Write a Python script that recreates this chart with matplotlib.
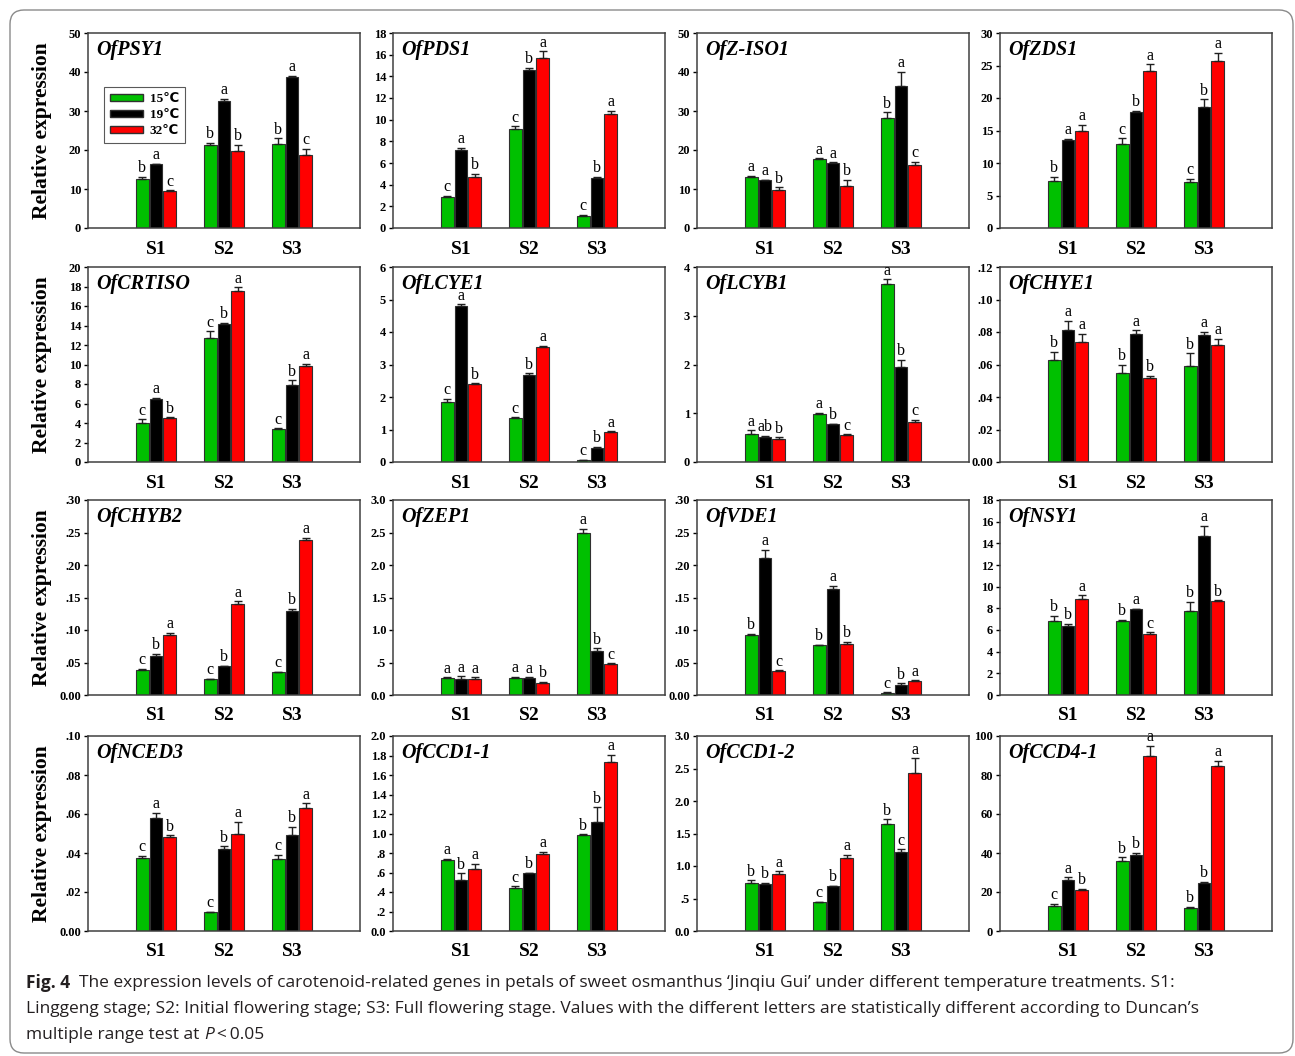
import numpy as np
import matplotlib.pyplot as plt
from matplotlib.patches import Patch, FancyBboxPatch
from matplotlib.transforms import IdentityTransform

# categories / treatments
stages = ['S1', 'S2', 'S3']
temps = ['15℃', '19℃', '32℃']

# values: one row per stage, columns = 15, 19, 32 C
psy1_val = [[12.5, 16.3, 9.5], [21.2, 32.5, 19.8], [21.6, 38.8, 18.7]]
psy1_err = [[0.7, 0.2, 0.2], [0.7, 0.7, 1.5], [1.4, 0.3, 1.6]]
psy1_sig = [['b', 'a', 'c'], ['b', 'a', 'b'], ['b', 'a', 'c']]

pds1_val = [[2.9, 7.2, 4.7], [9.1, 14.6, 15.7], [1.1, 4.6, 10.5]]
pds1_err = [[0.1, 0.2, 0.3], [0.3, 0.2, 0.6], [0.1, 0.15, 0.3]]
pds1_sig = [['c', 'a', 'b'], ['c', 'b', 'a'], ['c', 'b', 'a']]

ziso1_val = [[13.2, 12.3, 9.7], [17.8, 16.7, 10.7], [28.2, 36.5, 16.2]]
ziso1_err = [[0.2, 0.1, 0.7], [0.1, 0.1, 1.7], [1.5, 3.5, 0.8]]
ziso1_sig = [['a', 'a', 'b'], ['a', 'a', 'b'], ['b', 'a', 'c']]

zds1_val = [[7.3, 13.6, 15.0], [13.0, 17.9, 24.1], [7.1, 18.6, 25.7]]
zds1_err = [[0.6, 0.1, 0.9], [0.8, 0.1, 1.1], [0.5, 1.2, 1.3]]
zds1_sig = [['b', 'a', 'a'], ['c', 'b', 'a'], ['c', 'b', 'a']]

crtiso_val = [[4.0, 6.5, 4.5], [12.7, 14.2, 17.5], [3.4, 7.9, 9.8]]
crtiso_err = [[0.4, 0.1, 0.1], [0.7, 0.05, 0.4], [0.05, 0.5, 0.3]]
crtiso_sig = [['c', 'a', 'b'], ['c', 'b', 'a'], ['c', 'b', 'a']]

lcye1_val = [[1.85, 4.8, 2.4], [1.35, 2.68, 3.55], [0.05, 0.43, 0.93]]
lcye1_err = [[0.1, 0.05, 0.02], [0.02, 0.05, 0.02], [0.01, 0.03, 0.02]]
lcye1_sig = [['c', 'a', 'b'], ['c', 'b', 'a'], ['c', 'b', 'a']]

lcyb1_val = [[0.58, 0.51, 0.47], [0.98, 0.77, 0.56], [3.65, 1.95, 0.83]]
lcyb1_err = [[0.07, 0.03, 0.04], [0.03, 0.01, 0.01], [0.1, 0.15, 0.04]]
lcyb1_sig = [['a', 'ab', 'b'], ['a', 'b', 'c'], ['a', 'b', 'c']]

chye1_val = [[0.063, 0.081, 0.074], [0.055, 0.079, 0.052], [0.059, 0.078, 0.072]]
chye1_err = [[0.005, 0.006, 0.005], [0.005, 0.002, 0.001], [0.008, 0.002, 0.004]]
chye1_sig = [['b', 'a', 'a'], ['b', 'a', 'b'], ['b', 'a', 'a']]

chyb2_val = [[0.038, 0.060, 0.092], [0.024, 0.044, 0.140], [0.035, 0.129, 0.238]]
chyb2_err = [[0.002, 0.003, 0.004], [0.0005, 0.001, 0.004], [0.001, 0.004, 0.004]]
chyb2_sig = [['c', 'b', 'a'], ['c', 'b', 'a'], ['c', 'b', 'a']]

zep1_val = [[0.26, 0.25, 0.25], [0.26, 0.26, 0.19], [2.49, 0.68, 0.48]]
zep1_err = [[0.01, 0.04, 0.02], [0.02, 0.01, 0.01], [0.07, 0.04, 0.01]]
zep1_sig = [['a', 'a', 'a'], ['a', 'a', 'b'], ['a', 'b', 'c']]

vde1_val = [[0.093, 0.211, 0.037], [0.077, 0.163, 0.078], [0.003, 0.016, 0.022]]
vde1_err = [[0.001, 0.012, 0.001], [0.0005, 0.005, 0.004], [0.001, 0.002, 0.0005]]
vde1_sig = [['b', 'a', 'c'], ['b', 'a', 'b'], ['c', 'b', 'a']]

nsy1_val = [[6.8, 6.4, 8.9], [6.8, 7.9, 5.6], [7.8, 14.7, 8.7]]
nsy1_err = [[0.5, 0.2, 0.3], [0.15, 0.05, 0.2], [0.8, 0.9, 0.05]]
nsy1_sig = [['b', 'b', 'a'], ['b', 'a', 'c'], ['b', 'a', 'b']]

nced3_val = [[0.0375, 0.058, 0.048], [0.0098, 0.042, 0.050], [0.037, 0.049, 0.063]]
nced3_err = [[0.001, 0.0025, 0.001], [0.0002, 0.0015, 0.006], [0.002, 0.0045, 0.0025]]
nced3_sig = [['c', 'a', 'b'], ['c', 'b', 'a'], ['c', 'b', 'a']]

ccd11_val = [[0.73, 0.52, 0.64], [0.44, 0.59, 0.79], [0.98, 1.12, 1.73]]
ccd11_err = [[0.01, 0.07, 0.05], [0.02, 0.005, 0.02], [0.01, 0.15, 0.08]]
ccd11_sig = [['a', 'b', 'a'], ['c', 'b', 'a'], ['b', 'b', 'a']]

ccd12_val = [[0.74, 0.73, 0.87], [0.44, 0.69, 1.13], [1.64, 1.22, 2.43]]
ccd12_err = [[0.04, 0.01, 0.05], [0.01, 0.01, 0.04], [0.08, 0.04, 0.23]]
ccd12_sig = [['b', 'b', 'a'], ['c', 'b', 'a'], ['b', 'c', 'a']]

ccd41_val = [[12.8, 26.0, 21.0], [36.0, 39.2, 90.0], [12.0, 24.8, 84.5]]
ccd41_err = [[1.2, 1.5, 0.5], [1.8, 1.0, 5.0], [0.5, 0.5, 2.8]]
ccd41_sig = [['c', 'a', 'b'], ['b', 'b', 'a'], ['b', 'b', 'a']]

# gene name, values, errors, letters, y max, tick step, decimals
panels = [
    ('OfPSY1', psy1_val, psy1_err, psy1_sig, 50, 10, 0),
    ('OfPDS1', pds1_val, pds1_err, pds1_sig, 18, 2, 0),
    ('OfZ-ISO1', ziso1_val, ziso1_err, ziso1_sig, 50, 10, 0),
    ('OfZDS1', zds1_val, zds1_err, zds1_sig, 30, 5, 0),
    ('OfCRTISO', crtiso_val, crtiso_err, crtiso_sig, 20, 2, 0),
    ('OfLCYE1', lcye1_val, lcye1_err, lcye1_sig, 6, 1, 0),
    ('OfLCYB1', lcyb1_val, lcyb1_err, lcyb1_sig, 4, 1, 0),
    ('OfCHYE1', chye1_val, chye1_err, chye1_sig, 0.12, 0.02, 2),
    ('OfCHYB2', chyb2_val, chyb2_err, chyb2_sig, 0.30, 0.05, 2),
    ('OfZEP1', zep1_val, zep1_err, zep1_sig, 3.0, 0.5, 1),
    ('OfVDE1', vde1_val, vde1_err, vde1_sig, 0.30, 0.05, 2),
    ('OfNSY1', nsy1_val, nsy1_err, nsy1_sig, 18, 2, 0),
    ('OfNCED3', nced3_val, nced3_err, nced3_sig, 0.10, 0.02, 2),
    ('OfCCD1-1', ccd11_val, ccd11_err, ccd11_sig, 2.0, 0.2, 1),
    ('OfCCD1-2', ccd12_val, ccd12_err, ccd12_sig, 3.0, 0.5, 1),
    ('OfCCD4-1', ccd41_val, ccd41_err, ccd41_sig, 100, 20, 0),
]

colors = ['#00c000', '#000000', '#ff0000']
serif = ['Liberation Serif', 'DejaVu Sans']
sans = 'Open Sans'

W, H = 1295, 1056
fig = plt.figure(figsize=(W / 100, H / 100), dpi=100)

# rounded frame around the whole figure
fig.patches.append(FancyBboxPatch((10, 3), W - 12, H - 13,
                                  boxstyle='round,pad=0,rounding_size=14',
                                  transform=IdentityTransform(), facecolor='none',
                                  edgecolor='#8a8a8a', linewidth=1.0))

col_left = [88, 393, 697, 1000]
row_top = [33, 267, 500, 736]
aw, ah = 272, 195


def tick_label(v, dec):
    s = f'{v:.{dec}f}'
    if 0 < v < 1 and dec > 0:
        s = s[1:]
    return s


x = np.arange(1, 4)
offsets = [-0.2, 0.0, 0.2]
bw = 0.18

for k, (name, val, err, sig, ymax, step, dec) in enumerate(panels):
    r, c = divmod(k, 4)
    ax = fig.add_axes([col_left[c] / W, 1 - (row_top[r] + ah) / H, aw / W, ah / H])
    val = np.array(val)
    err = np.array(err)
    for j in range(3):
        xs = x + offsets[j]
        ax.bar(xs, val[:, j], width=bw, color=colors[j], edgecolor='#303030',
               linewidth=0.8, zorder=2)
        ax.errorbar(xs, val[:, j], yerr=[np.zeros(3), err[:, j]], fmt='none',
                    ecolor='#202020', elinewidth=1.0, capsize=3, capthick=1.0, zorder=3)
        for i in range(3):
            ax.text(xs[i], val[i, j] + err[i, j] + ymax * 0.003, sig[i][j],
                    ha='center', va='bottom', fontsize=11.5, family=serif, zorder=4)

    ax.set_xlim(0, 4)
    ax.set_ylim(0, ymax)
    yt = np.arange(0, ymax + step / 2, step)
    ax.set_yticks(yt)
    ax.set_yticklabels([tick_label(v, dec) for v in yt], family=serif,
                       fontweight='bold', fontsize=9)
    ax.set_xticks(x)
    ax.set_xticklabels(stages, family=serif, fontweight='bold', fontsize=14)
    ax.tick_params(axis='y', direction='out', length=3, width=1, pad=2)
    ax.tick_params(axis='x', length=0, pad=9)
    for sp in ax.spines.values():
        sp.set_linewidth(1.1)
        sp.set_color('#404040')

    ax.text(0.03, 0.965, name, transform=ax.transAxes, ha='left', va='top',
            family=serif, fontweight='bold', fontstyle='italic', fontsize=14.5)

    if k == 0:
        handles = [Patch(facecolor=colors[j], edgecolor='#303030', label=temps[j])
                   for j in range(3)]
        leg = ax.legend(handles=handles, loc='upper left', bbox_to_anchor=(0.035, 0.755),
                        prop={'family': serif, 'weight': 'bold', 'size': 9.5},
                        handlelength=2.5, handleheight=0.5, handletextpad=0.5,
                        labelspacing=0.3, borderpad=0.45, fancybox=False)
        leg.get_frame().set_edgecolor('#303030')
        leg.get_frame().set_linewidth(0.8)

    if c == 0:
        fig.text(42 / W, 1 - (row_top[r] + ah / 2) / H, 'Relative expression',
                 rotation=90, ha='center', va='center', family=serif,
                 fontweight='bold', fontsize=15.5)

# caption, drawn piece by piece so mixed styles sit on one line
renderer = fig.canvas.get_renderer()


def caption_line(y, pieces, x0=26):
    xp = x0
    for txt, kw in pieces:
        t = fig.text(xp / W, 1 - y / H, txt, ha='left', va='center',
                     family=sans, fontsize=12.5, color='#231f20', **kw)
        xp += t.get_window_extent(renderer).width


caption_line(983, [('Fig. 4', {'fontweight': 'bold'}),
                   ('  The expression levels of carotenoid-related genes in petals of sweet '
                    'osmanthus \u2018Jinqiu Gui\u2019 under different temperature treatments. S1:', {})])
caption_line(1009, [('Linggeng stage; S2: Initial flowering stage; S3: Full flowering stage. '
                     'Values with the different letters are statistically different according '
                     'to Duncan\u2019s', {})])
caption_line(1035, [('multiple range test at ', {}), ('P', {'fontstyle': 'italic'}),
                    ('\u2009<\u20090.05', {})])

fig.savefig('out.png', dpi=100)
